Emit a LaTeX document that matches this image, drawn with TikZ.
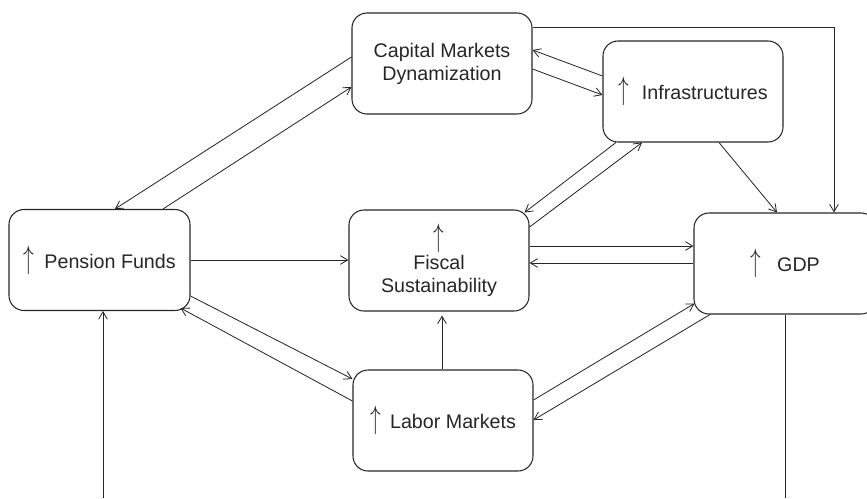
\documentclass[tikz,border=0pt]{standalone}
\usepackage{fontspec}
\usepackage{graphicx}
\setmainfont{Liberation Sans}
\usetikzlibrary{arrows.meta,calc}
\newcommand\uparr{\scalebox{1.05}[1.6]{$\uparrow$}}
\begin{document}
\begin{tikzpicture}[x=0.03cm,y=-0.03cm,
	box/.style={draw=black!85,line width=0.9pt,rounded corners=0.45cm,minimum width=5.4cm,minimum height=3.03cm,inner sep=0pt,align=center,font=\fontsize{16.8}{19.6}\selectfont,text=black!85},
	link/.style={draw=black!85,line width=0.7pt,-{Straight Barb[length=2.2mm,width=2.6mm]}}]
	\useasboundingbox (0,0) rectangle (867,498);
	\node[box] (cap) at (442,63.5) {Capital Markets\\Dynamization};
	\node[box] (inf) at (693,91.5) {\uparr\hspace{11pt}Infrastructures};
	\node[box,minimum width=5.43cm] (pen) at (99.5,260) {\uparr\hspace{9pt}Pension Funds};
	\node[box] (fis) at (439,260.5) {\uparr\\Fiscal\\Sustainability};
	\node[box,minimum width=5.46cm] (gdp) at (785,263.5) {\uparr\hspace{14pt}GDP};
	\node[box] (lab) at (443,420.5) {\uparr\hspace{8pt}Labor Markets};
	\coordinate (pin) at (103,498);
	\coordinate (gout) at (785,498);
	% top
	\draw[link] (cap.east |- 0,27) -| (gdp.north -| 834,0);
	\draw[link] (inf.west |- 0,76) -- (cap.east |- 0,50);
	\draw[link] (cap.east |- 0,69) -- (inf.west |- 0,95);
	\draw[link] (inf.south -| 719,0) -- (gdp.north -| 777,0);
	\draw[link] (inf.south -| 616,0) -- ($(fis.north east)+(-5,3)$);
	\draw[link] (fis.east |- 0,227) -- (inf.south -| 642,0);
	\draw[link] (cap.west |- 0,57) -- (pen.north -| 115,0);
	\draw[link] (pen.north -| 163,0) -- (cap.west |- 0,87);
	% middle
	\draw[link] (pen.east) -- (fis.west |- pen.east);
	\draw[link] (fis.east |- 0,246) -- (gdp.west |- 0,246);
	\draw[link] (gdp.west |- 0,263) -- (fis.east |- 0,263);
	% bottom
	\draw[link,shorten >=0.12cm] (lab.north -| 442,0) -- (fis.south -| 442,0);
	\draw[link] (lab.east |- 0,400) -- ($(gdp.south west)+(1,-11)$);
	\draw[link] (gdp.south -| 710,0) -- (lab.east |- 0,420);
	\draw[link] (pen.east |- 0,296) -- (lab.west |- 0,379);
	\draw[link] (lab.west |- 0,401) -- ($(pen.south east)+(-10,-3)$);
	\draw[link] (pin) -- (pen.south -| pin);
	\draw[draw=black!85,line width=0.7pt] (gdp.south) -- (gout);
\end{tikzpicture}
\end{document}
